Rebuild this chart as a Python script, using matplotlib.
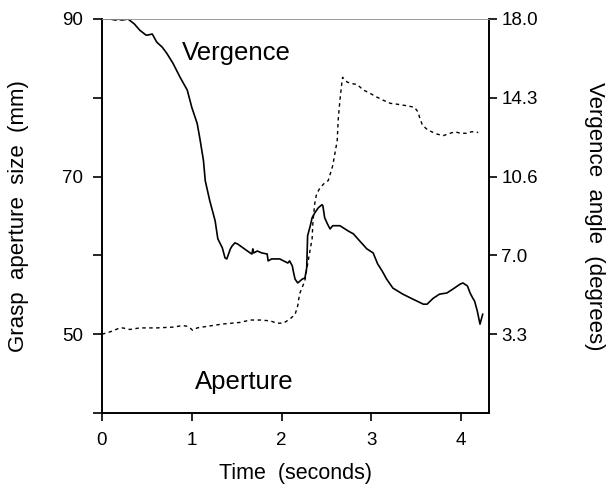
import matplotlib
matplotlib.use('Agg')
import matplotlib.pyplot as plt

plt.rcParams['font.family'] = ['Liberation Sans', 'DejaVu Sans']

# vergence trace (seconds, degrees) - right axis
verg_t = [0.00, 0.09, 0.15, 0.18, 0.22, 0.29, 0.36, 0.42, 0.49, 0.51, 0.56, 0.61,
          0.67, 0.72, 0.79, 0.87, 0.95, 1.00, 1.06, 1.09, 1.13, 1.15, 1.20, 1.26,
          1.29, 1.34, 1.37, 1.39, 1.43, 1.45, 1.48, 1.51, 1.57, 1.65, 1.67, 1.68,
          1.69, 1.73, 1.78, 1.84, 1.85, 1.89, 1.98, 2.07, 2.09, 2.12, 2.13, 2.15,
          2.18, 2.23, 2.26, 2.28, 2.29, 2.32, 2.34, 2.37, 2.41, 2.45, 2.46, 2.48,
          2.51, 2.54, 2.57, 2.65, 2.74, 2.80, 2.87, 2.95, 3.02, 3.07, 3.12, 3.17,
          3.24, 3.35, 3.46, 3.58, 3.62, 3.69, 3.76, 3.84, 3.91, 3.99, 4.02, 4.07,
          4.10, 4.13, 4.15, 4.18, 4.21, 4.24]
verg_deg = [18.00, 18.00, 17.95, 18.00, 17.95, 18.00, 17.77, 17.48, 17.25, 17.25, 17.30, 16.92,
            16.69, 16.41, 15.94, 15.28, 14.68, 13.88, 13.13, 12.43, 11.40, 10.46, 9.53, 8.59,
            7.75, 7.33, 6.86, 6.81, 7.28, 7.42, 7.56, 7.51, 7.33, 7.09, 7.04, 7.28,
            7.09, 7.18, 7.09, 7.04, 6.72, 6.81, 6.81, 6.62, 6.72, 6.48, 6.25, 5.87,
            5.69, 5.87, 5.92, 6.39, 7.89, 8.36, 8.73, 8.96, 9.20, 9.34, 9.29, 8.73,
            8.45, 8.21, 8.36, 8.36, 8.12, 7.98, 7.65, 7.28, 7.09, 6.58, 6.25, 5.87,
            5.45, 5.17, 4.94, 4.70, 4.70, 4.98, 5.17, 5.22, 5.41, 5.64, 5.69, 5.55,
            5.22, 4.98, 4.84, 4.38, 3.77, 4.23]

# grasp aperture trace (seconds, mm) - left axis
ap_t = [0.00, 0.09, 0.20, 0.23, 0.31, 0.42, 0.61, 0.79, 0.90, 0.95, 0.98, 1.01,
        1.06, 1.17, 1.35, 1.54, 1.65, 1.76, 1.87, 1.95, 2.02, 2.09, 2.15, 2.18,
        2.20, 2.26, 2.29, 2.34, 2.35, 2.37, 2.39, 2.43, 2.48, 2.52, 2.57, 2.62,
        2.63, 2.65, 2.67, 2.68, 2.73, 2.78, 2.84, 2.91, 2.98, 3.06, 3.13, 3.21,
        3.28, 3.39, 3.48, 3.52, 3.54, 3.57, 3.63, 3.73, 3.80, 3.88, 3.93, 3.99,
        4.06, 4.12, 4.19]
ap_mm = [50.0, 50.3, 50.8, 50.8, 50.6, 50.8, 50.8, 50.9, 51.1, 51.0, 50.8, 50.5,
         50.8, 51.0, 51.3, 51.5, 51.8, 51.8, 51.7, 51.4, 51.4, 51.9, 52.5, 53.6,
         55.1, 56.8, 58.9, 62.1, 64.4, 66.6, 67.8, 68.6, 69.2, 69.5, 71.4, 74.6,
         77.1, 79.7, 81.8, 82.6, 82.0, 81.8, 81.7, 81.0, 80.6, 80.1, 79.7, 79.3,
         79.2, 79.0, 78.8, 78.2, 77.4, 76.5, 75.9, 75.4, 75.2, 75.5, 75.7, 75.5,
         75.5, 75.7, 75.6]

x_ticks = [0, 1, 2, 3, 4]
left_ticks = [40, 50, 60, 70, 80, 90]
left_labels = ['', '50', '', '70', '', '90']
right_ticks = [18.0, 14.325, 10.65, 6.975, 3.3]
right_labels = ['18.0', '14.3', '10.6', '7.0', '3.3']

fig = plt.figure(figsize=(6.1, 4.96), dpi=100)
ax = fig.add_axes([0.1672, 0.1673, 0.6344, 0.7944])
ax2 = ax.twinx()

ax.plot(ap_t, ap_mm, color='black', lw=1.0, linestyle=(0, (2.5, 2.5)))
ax2.plot(verg_t, verg_deg, color='black', lw=1.2)

ax.set_xlim(0, 4.31)
ax.set_ylim(40, 90)
ax2.set_ylim(-0.375, 18.0)

ax.set_xticks(x_ticks)
ax.set_yticks(left_ticks)
ax.set_yticklabels(left_labels)
ax2.set_yticks(right_ticks)
ax2.set_yticklabels(right_labels)

ax.tick_params(axis='x', direction='out', length=6, width=1.2, pad=8, labelsize=13.5)
ax.tick_params(axis='y', direction='out', length=6.5, width=1.2, pad=7, labelsize=13.5)
ax2.tick_params(axis='y', direction='out', length=6, width=1.2, pad=3, labelsize=13.5)

for a in (ax, ax2):
    for s in ('left', 'right', 'bottom'):
        a.spines[s].set_linewidth(1.2)
    a.spines['top'].set_linewidth(0.6)
    a.spines['top'].set_color('#9a9a9a')

ax.set_xlabel('Time  (seconds)', fontsize=15.5, labelpad=10)
ax.set_ylabel('Grasp  aperture  size  (mm)', fontsize=16, labelpad=24)
ax2.set_ylabel('Vergence  angle  (degrees)', fontsize=16, rotation=-90, labelpad=48)

ax.text(1.50, 85.7, 'Vergence', fontsize=18.5, ha='center', va='center')
ax.text(1.59, 43.9, 'Aperture', fontsize=18.5, ha='center', va='center')

fig.savefig('out.png', dpi=100)
